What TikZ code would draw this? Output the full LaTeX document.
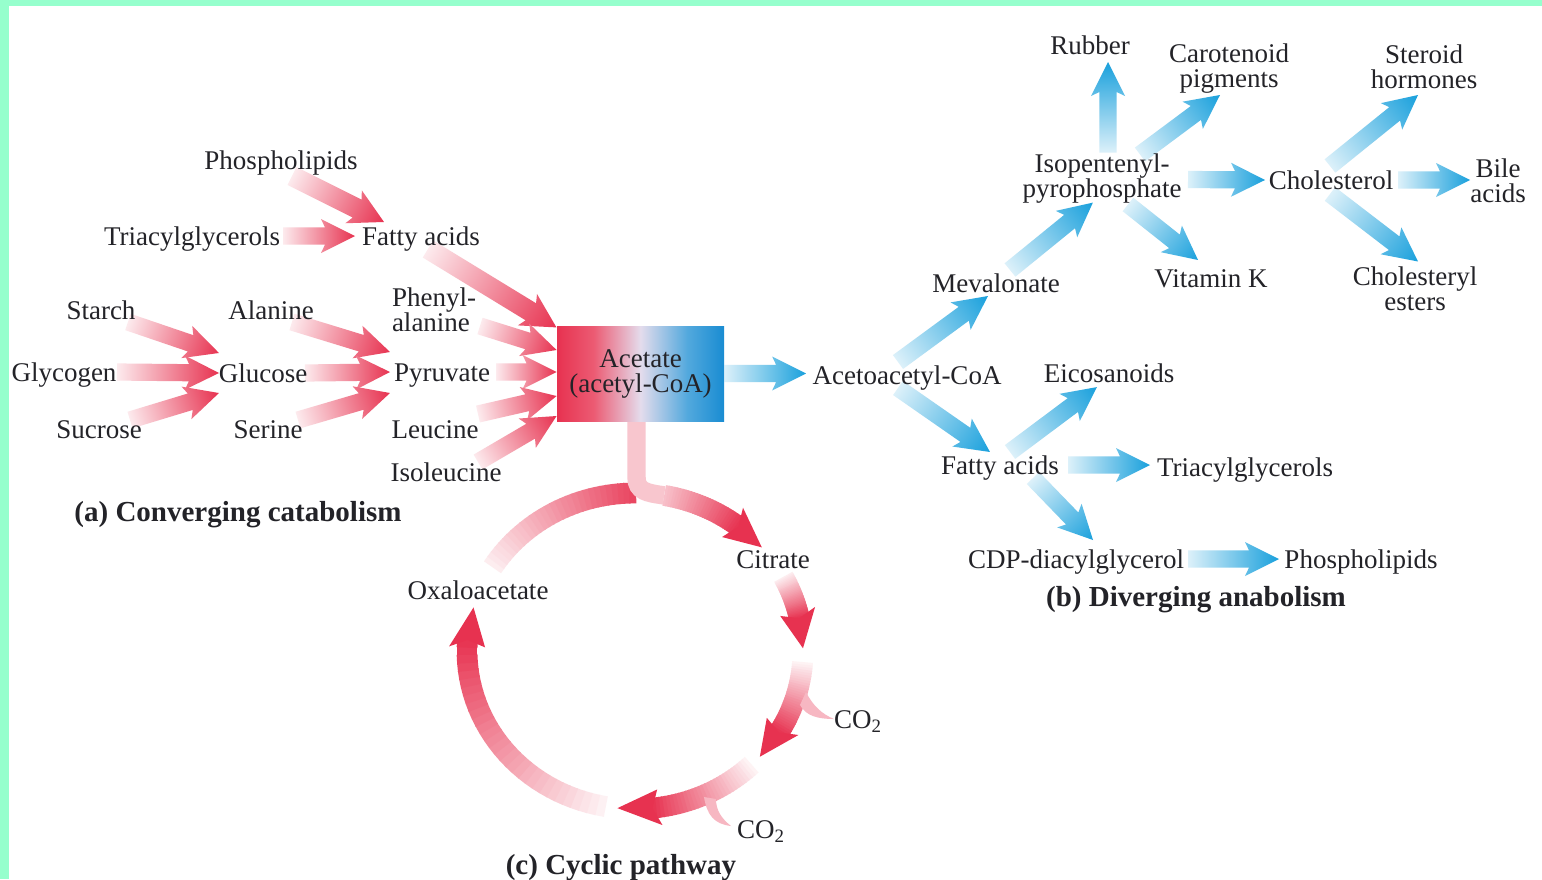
\documentclass[tikz,border=0pt]{standalone}
\usepackage{fontspec}
\setmainfont{Liberation Serif}
\usetikzlibrary{calc}
\pgfdeclarelayer{paper}
\pgfdeclarelayer{flow}
\pgfsetlayers{paper,flow,main}
\definecolor{redc}{RGB}{231,50,80}
\definecolor{bluec}{RGB}{25,160,220}
\definecolor{boxblue}{RGB}{25,140,210}
\definecolor{boxmid}{RGB}{228,220,236}
\definecolor{mint}{RGB}{150,255,205}
\definecolor{txt}{RGB}{35,35,40}

\pgfdeclarehorizontalshading{acetshade}{100bp}{color(0bp)=(redc); color(25bp)=(redc); color(36bp)=(redc!80!white); color(50bp)=(boxmid); color(64bp)=(boxblue!75!white); color(75bp)=(boxblue); color(100bp)=(boxblue)}

\makeatletter
% #1 tail, #2 tip, #3 tail colour, #4 head colour, #5 shaft half width (pt)
\newcommand\fatarr[5]{%
  \path #1 coordinate (fa@a) #2 coordinate (fa@b);
  \pgfpointdiff{\pgfpointanchor{fa@a}{center}}{\pgfpointanchor{fa@b}{center}}%
  \pgfgetlastxy{\fa@dx}{\fa@dy}%
  \pgfmathsetmacro\fa@len{veclen(\fa@dx,\fa@dy)}%
  \pgfmathsetmacro\fa@ang{atan2(\fa@dy,\fa@dx)}%
  \pgfmathsetmacro\fa@base{\fa@len-15}%
  \pgfmathsetmacro\fa@barb{\fa@len-17}%
  \pgfmathsetmacro\fa@hw{#5+4.2}%
  \begin{pgfonlayer}{flow}
  \begin{scope}[transform canvas={shift={(fa@a)},rotate=\fa@ang}]
    \path[left color=#3, right color=#4] (0pt,-#5pt) -- (\fa@base pt,-#5pt) -- (\fa@barb pt,-\fa@hw pt) -- (\fa@len pt,0pt) -- (\fa@barb pt,\fa@hw pt) -- (\fa@base pt,#5pt) -- (0pt,#5pt) -- cycle;
  \end{scope}
  \end{pgfonlayer}}
\makeatother
\newcommand\redarr[3][4.3]{\fatarr{#2}{#3}{redc!10!white}{redc}{#1}}
\newcommand\bluarr[3][4.3]{\fatarr{#2}{#3}{bluec!15!white}{bluec}{#1}}

% ring pieces: #1 start angle, #2 end angle, #3 start tint, #4 end tint
\newcommand\ringseg[4]{%
  \foreach \k in {1,...,30}{%
    \pgfmathsetmacro\ta{#1+(#2-#1)*(\k-1)/30}%
    \pgfmathsetmacro\tb{#1+(#2-#1)*\k/30+0.4}%
    \pgfmathtruncatemacro\cc{#3+(#4-#3)*(\k-0.5)/30}%
    \draw[line width=10.4pt, color=redc!\cc!white] ($(ring)+(\ta:168 and 158)$) -- ($(ring)+(\tb:168 and 158)$);
  }}
% ring head: #1 base angle, #2 tip angle
\newcommand\ringhead[2]{%
  \pgfmathsetmacro\tc{#1-2.5}%
  \fill[redc] ($(ring)+(#1:168 and 158)$) -- ($(ring)+(\tc:186 and 176)$) -- ($(ring)+(#2:168 and 158)$) -- ($(ring)+(\tc:150 and 140)$) -- cycle;}

\begin{document}
\begin{tikzpicture}[x=0.5pt,y=-0.5pt,
  lbl/.style={inner sep=0pt, text=txt, font=\fontsize{13.5}{12.5}\selectfont, text height=12.2pt, text depth=2.9pt},
  lbltwo/.style={inner sep=0pt, text=txt, font=\fontsize{13.5}{12.5}\selectfont, align=center},
  captxt/.style={inner sep=0pt, text=txt, font=\fontsize{14.5}{16}\selectfont\bfseries, text height=12.8pt, text depth=3pt}]
\useasboundingbox (0,0) rectangle (1542,879);
\begin{pgfonlayer}{paper}
\fill[white] (0,0) rectangle (1542,879);
\fill[mint] (0,0) rectangle (1542,6);
\fill[mint] (0,0) rectangle (9,879);
\end{pgfonlayer}

% ---------- (a) converging catabolism ----------
\node[lbl] (phos) at (281,160) {Phospholipids};
\node[lbl] (tri) at (192,236) {Triacylglycerols};
\node[lbl] (fa) at (421,236) {Fatty acids};
\node[lbl] (starch) at (101,310) {Starch};
\node[lbl] (glyc) at (64,372) {Glycogen};
\node[lbl] (sucr) at (99,429) {Sucrose};
\node[lbl] (ala) at (271,310) {Alanine};
\node[lbl] (gluc) at (263,373) {Glucose};
\node[lbl] (ser) at (268,429) {Serine};
\node[lbltwo, align=left] (phe) at (434,310) {Phenyl-\\alanine};
\node[lbl] (pyr) at (442,372) {Pyruvate};
\node[lbl] (leu) at (435,429) {Leucine};
\node[lbl] (ile) at (446,472) {Isoleucine};
\node[captxt] (capa) at (238,512) {(a) Converging catabolism};

\node[shade, shading=acetshade, minimum width=83.5pt, minimum height=47.5pt, inner sep=0pt,
      align=center, text=txt, font=\fontsize{13.5}{12.5}\selectfont] (acet) at (640.5,373.5) {Acetate\\(acetyl-CoA)};

\redarr[5]{($(phos)+(11,16)$)}{($(fa)+(-37,-14)$)}
\redarr{($(tri)+(91,0)$)}{($(fa)+(-66,0)$)}
\redarr{($(starch)+(27,12)$)}{($(gluc)+(-44,-20)$)}
\redarr{($(glyc)+(53,0)$)}{($(gluc)+(-44,0)$)}
\redarr{($(sucr)+(31,-9)$)}{($(gluc)+(-44,20)$)}
\redarr{($(ala)+(21,12)$)}{($(pyr)+(-52,-20)$)}
\redarr{($(gluc)+(42,0)$)}{($(pyr)+(-52,0)$)}
\redarr{($(ser)+(30,-9)$)}{($(pyr)+(-52,21)$)}
\redarr[5]{($(fa)+(7,13)$)}{($(acet.west)+(0,-46)$)}
\redarr{($(phe)+(46,16)$)}{($(acet.west)+(0,-23.5)$)}
\redarr{($(pyr)+(54,0)$)}{($(acet.west)+(0,-1.5)$)}
\redarr{($(leu)+(43,-15)$)}{($(acet.west)+(0,22.5)$)}
\redarr{($(ile)+(32,-10)$)}{($(acet.west)+(0,42.5)$)}

% ---------- (b) diverging anabolism ----------
\node[lbl] (aca) at (907,375) {Acetoacetyl-CoA};
\node[lbl] (mev) at (996,283) {Mevalonate};
\node[lbltwo] (ipp) at (1102,179) {Isopentenyl-\\pyrophosphate};
\node[lbl] (rub) at (1090,45) {Rubber};
\node[lbltwo] (car) at (1229,69) {Carotenoid\\pigments};
\node[lbl] (vitk) at (1211,278) {Vitamin K};
\node[lbl] (chol) at (1331,180) {Cholesterol};
\node[lbltwo] (ster) at (1424,67) {Steroid\\hormones};
\node[lbltwo] (bile) at (1498,180.5) {Bile\\acids};
\node[lbltwo] (chest) at (1415,288.5) {Cholesteryl\\esters};
\node[lbl] (eico) at (1109,373) {Eicosanoids};
\node[lbl] (fa2) at (1000,465) {Fatty acids};
\node[lbl] (tag2) at (1245,467) {Triacylglycerols};
\node[lbl] (cdp) at (1076,559) {CDP-diacylglycerol};
\node[lbl] (phl2) at (1361,559) {Phospholipids};
\node[captxt] (capb) at (1196,597) {(b) Diverging anabolism};

\bluarr{(acet.east)}{($(aca.west)+(-6,-1.5)$)}
\bluarr{($(aca)+(-9,-13)$)}{($(mev)+(-8,13)$)}
\bluarr{($(mev)+(14,-13)$)}{($(ipp)+(-9,23.5)$)}
\bluarr{($(ipp)+(6,-26.5)$)}{($(rub)+(18,17)$)}
\bluarr{($(ipp)+(38,-24.5)$)}{($(car)+(-9,26)$)}
\bluarr{($(ipp)+(26,25.5)$)}{($(vitk)+(-13,-18)$)}
\bluarr{($(ipp)+(86,0.5)$)}{($(chol)+(-66,0)$)}
\bluarr{($(chol)+(-1,-14)$)}{($(ster)+(-6,28)$)}
\bluarr{($(chol)+(67,0)$)}{($(bile)+(-28,-0.5)$)}
\bluarr{($(chol)+(-1,14)$)}{($(chest)+(3,-27)$)}
\bluarr{($(aca)+(-9,13)$)}{($(fa2)+(-10,-13)$)}
\bluarr{($(fa2)+(10,-13)$)}{($(eico)+(-12,14)$)}
\bluarr{($(fa2)+(68,0)$)}{($(tag2)+(-95,-2)$)}
\bluarr{($(fa2)+(33,13)$)}{($(cdp)+(17,-19)$)}
\bluarr{($(cdp)+(112,0)$)}{($(phl2)+(-82,0)$)}

% ---------- (c) cyclic pathway ----------
\coordinate (ring) at (635,651);
\node[lbl] (cit) at (773,559) {Citrate};
\node[lbl] (oxa) at (478,590) {Oxaloacetate};
\node[lbl] (co2a) at (858,719) {CO\textsubscript{2}};
\node[lbl] (co2b) at (761,829) {CO\textsubscript{2}};
\node[captxt] (capc) at (621,865) {(c) Cyclic pathway};

\begin{pgfonlayer}{flow}
\ringseg{212}{270}{8}{92}
\ringseg{-80}{-52}{30}{100}
\ringhead{-52}{-41}
\ringseg{-28}{-12}{8}{100}
\ringhead{-12}{-1}
\ringseg{4}{31}{5}{100}
\ringhead{31}{42}
\ringseg{46}{84}{5}{100}
\ringhead{84}{96}
\ringseg{100}{184}{6}{100}
\ringhead{184}{196}

% stem from acetate into the ring
\draw[line width=9.2pt, redc!28!white] ($(acet.south)+(-4,0)$) -- ($(acet.south)+(-4,56)$)
   .. controls ($(acet.south)+(-4,70)$) and ($(ring)+(12,-158)$) .. ($(ring)+(-80:168 and 158)$);

% CO2 release
\fill[redc!35!white] (800,705) .. controls (806,716) and (818,719) .. (834,719)
   .. controls (822,714) and (813,706) .. (806,692) -- cycle;
\fill[redc!35!white] (704,797) .. controls (707,815) and (714,824) .. (731,826)
   .. controls (721,818) and (716,810) .. (716,799) -- cycle;
\end{pgfonlayer}
\end{tikzpicture}
\end{document}
